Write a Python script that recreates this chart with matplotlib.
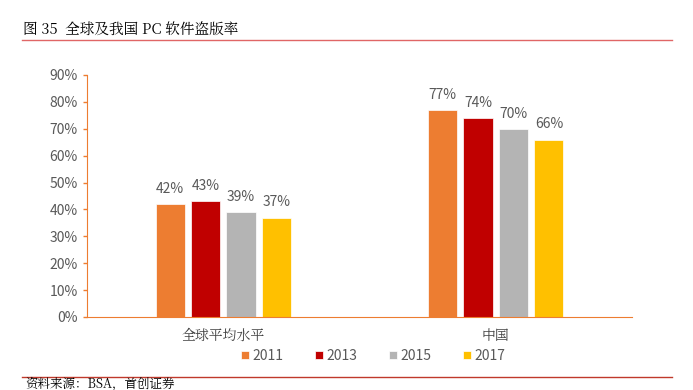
import matplotlib.pyplot as plt
import numpy as np

plt.rcParams['font.family'] = ['Liberation Sans Narrow', 'Noto Sans CJK SC', 'DejaVu Sans']

categories = ["全球平均水平", "中国"]
years = ["2011", "2013", "2015", "2017"]
values = [[42, 77], [43, 74], [39, 70], [37, 66]]
colors = ["#ED7D31", "#C00000", "#B4B4B4", "#FFC000"]

fig = plt.figure(figsize=(6.93, 3.90), dpi=100)
ax = fig.add_axes([87/693, 1 - 317/390, 545/693, 242/390])

x = np.arange(len(categories))
width = 0.107
step = 0.13
for i, (yr, vals, c) in enumerate(zip(years, values, colors)):
    pos = x + (i - 1.5) * step
    bars = ax.bar(pos, vals, width, color=c, edgecolor="white", linewidth=0.5, label=yr)
    for b, v in zip(bars, vals):
        ax.text(b.get_x() + b.get_width() / 2, v + 3, f"{v}%", ha="center", va="bottom",
                fontsize=10, color="#595959")

ax.set_xlim(-0.5, 1.5)
ax.set_ylim(0, 90)
ax.set_yticks(range(0, 91, 10))
ax.set_yticklabels([f"{t}%" for t in range(0, 91, 10)], fontsize=10, color="#595959")
ax.set_xticks(x)
ax.set_xticklabels(categories, fontsize=10, color="#404040",
                   family=['Noto Serif CJK SC', 'Noto Sans CJK SC'])
ax.tick_params(axis="x", length=0, pad=8)
ax.tick_params(axis="y", length=3, color="#ED7D31", width=1)
for s in ["top", "right"]:
    ax.spines[s].set_visible(False)
ax.spines["left"].set_color("#ED7D31")
ax.spines["bottom"].set_color("#ED7D31")

ax.legend(loc="upper center", bbox_to_anchor=(0.525, -0.08), ncol=4, frameon=False,
          fontsize=10, handlelength=0.55, handleheight=0.55, columnspacing=2.3,
          handletextpad=0.25, labelcolor="#595959")

fig.text(23/693, 1 - 31/390, "图 35  全球及我国 PC 软件盗版率", fontsize=10.5,
         family=['Noto Serif CJK SC', 'Noto Sans CJK SC'], va="center", color="black")
fig.add_artist(plt.Line2D([22/693, 672/693], [1 - 40/390, 1 - 40/390], color="#E06666", lw=1))
fig.add_artist(plt.Line2D([22/693, 672/693], [1 - 377/390, 1 - 377/390], color="#C0392B", lw=1))
fig.text(25/693, 1 - 384/390, "资料来源：BSA，首创证券", fontsize=9, style="italic", va="center",
         family=['Noto Serif CJK SC', 'Noto Sans CJK SC'])

fig.savefig("out.png", dpi=100)
